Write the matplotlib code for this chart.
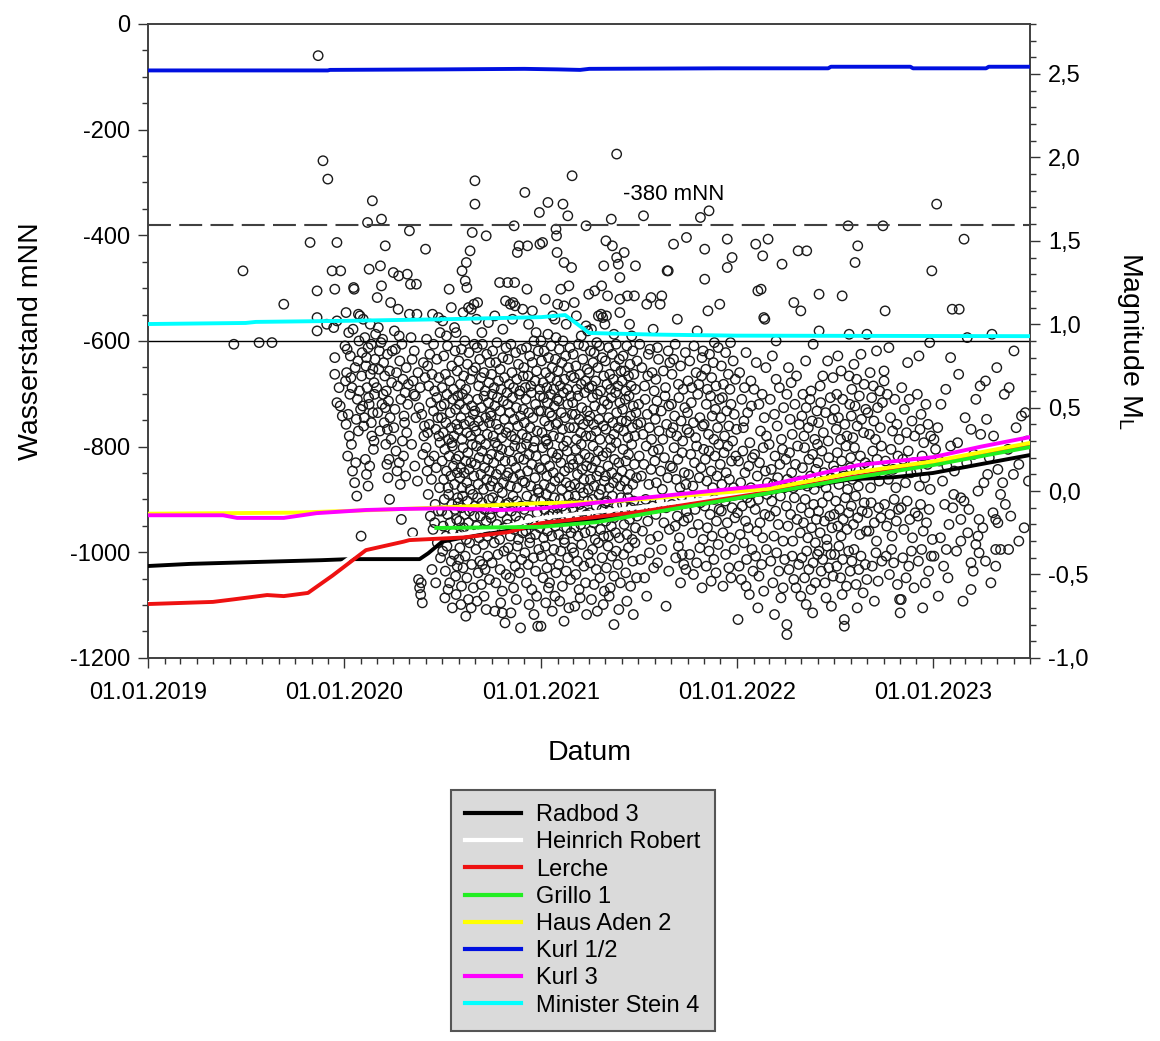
import numpy as np
import matplotlib
matplotlib.use('Agg')
import matplotlib.pyplot as plt
import matplotlib.dates as mdates
from matplotlib.ticker import MultipleLocator, FuncFormatter

plt.rcParams['font.family'] = ['Liberation Sans', 'DejaVu Sans']
plt.rcParams['axes.unicode_minus'] = False
plt.rcParams['mathtext.default'] = 'regular'

# water levels (mNN) of the mine shafts
radbod_dates = ['2019-01-01', '2019-03-20', '2019-07-01', '2019-11-20', '2020-01-10', '2020-05-20', '2020-06-05',
                '2020-07-01', '2020-08-10', '2021-01-01', '2021-07-01', '2022-03-01', '2022-08-01', '2022-10-20',
                '2023-01-01', '2023-07-01']
radbod_level = [-1026, -1022, -1019, -1015, -1013, -1013, -1002, -980, -972, -950, -928, -888, -862, -858, -850, -816]

heinrich_dates = ['2019-01-01', '2019-05-01', '2019-08-10', '2019-10-20', '2019-12-05', '2020-02-05', '2020-04-20',
                  '2020-08-01', '2020-11-01', '2021-01-01', '2021-07-01', '2022-03-01', '2022-08-01', '2023-01-01',
                  '2023-07-01']
heinrich_level = [-1096, -1092, -1079, -1073, -1038, -992, -975, -967, -950, -935, -915, -884, -857, -831, -796]

lerche_dates = ['2019-01-01', '2019-05-01', '2019-06-10', '2019-08-10', '2019-09-10', '2019-10-25', '2019-12-10',
                '2020-02-10', '2020-04-20', '2020-05-01', '2020-08-10', '2020-11-01', '2021-01-01', '2021-07-01',
                '2022-03-01', '2022-08-01', '2023-01-01', '2023-07-01']
lerche_level = [-1098, -1094, -1089, -1081, -1083, -1077, -1044, -996, -980, -977, -972, -962, -945, -924, -886, -858,
                -832, -797]

grillo_dates = ['2020-06-20', '2021-01-01', '2021-04-15', '2021-10-15', '2022-03-01', '2022-08-01', '2023-01-01',
                '2023-07-01']
grillo_level = [-954, -952, -943, -911, -888, -860, -835, -801]

haus_aden_dates = ['2019-01-01', '2019-06-01', '2019-10-01', '2020-03-01', '2020-07-01', '2021-01-01', '2021-05-01',
                   '2021-07-01', '2022-03-01', '2022-08-01', '2023-01-01', '2023-07-01']
haus_aden_level = [-927, -926, -925, -920, -915, -907, -905, -900, -880, -850, -828, -793]

kurl12_dates = ['2019-01-01', '2019-12-01', '2019-12-05', '2020-07-01', '2020-12-01', '2021-02-01', '2021-03-15',
                '2021-04-01', '2021-12-01', '2022-06-20', '2022-06-25', '2022-11-20', '2022-11-25', '2023-04-10',
                '2023-04-15', '2023-07-01']
kurl12_level = [-88, -88, -87, -86, -85, -86, -87, -85, -84, -84, -81, -81, -84, -84, -81, -81]

kurl3_dates = ['2019-01-01', '2019-05-20', '2019-06-15', '2019-09-10', '2019-11-10', '2020-02-10', '2020-04-20',
               '2020-07-01', '2020-10-20', '2021-01-01', '2021-07-01', '2022-03-01', '2022-08-15', '2023-01-01',
               '2023-04-01', '2023-07-01']
kurl3_level = [-930, -930, -935, -935, -926, -920, -918, -917, -920, -917, -898, -873, -835, -820, -800, -782]

stein_dates = ['2019-01-01', '2019-07-01', '2019-07-20', '2020-01-01', '2020-07-01', '2021-01-01', '2021-02-15',
               '2021-04-01', '2021-08-01', '2022-01-01', '2023-07-01']
stein_level = [-568, -566, -564, -562, -559, -555, -551, -585, -588, -590, -591]

well_names = ['Radbod 3', 'Heinrich Robert', 'Lerche', 'Grillo 1', 'Haus Aden 2', 'Kurl 1/2', 'Kurl 3',
              'Minister Stein 4']
well_colors = ['#000000', '#ffffff', '#ee1111', '#22ee22', '#ffff00', '#0010e0', '#ff00ff', '#00ffff']

# seismic events: (day of year, magnitude ML)
quakes_2019 = [
    (159, 0.88), (176, 1.32), (206, 0.89), (230, 0.89), (252, 1.12), (301, 1.49), (314, 1.20), (314, 1.04),
    (314, 0.96), (316, 2.61), (325, 1.98), (334, 1.87), (332, 1.00), (342, 1.32), (347, 1.21), (347, 0.80),
    (347, 0.70), (351, 1.02), (351, 1.49), (358, 1.32), (351, 0.53), (357, 0.51), (361, 0.45), (355, 0.62),
    (345, 0.98),
]

quakes_2020 = [
    (1, 0.87), (3, 1.07), (5, 0.85), (11, 0.81), (3, 0.40), (17, 1.22), (18, 1.21), (26, 1.06), (29, 1.05),
    (8, 0.95), (14, 0.62), (20, 0.74), (24, 0.55), (6, 0.21), (12, 0.68), (22, 0.43), (27, 0.90), (9, 0.33),
    (15, 0.12), (19, 0.05), (21, 0.17), (25, 0.78), (28, 0.60), (30, 0.49), (16, 0.97), (4, 0.71), (13, 0.28),
    (23, -0.03), (10, 0.58), (7, 0.46), (26, 0.36), (2, 0.66),
    (43, 1.61), (46, 1.33), (52, 1.74), (35, 1.03), (38, 0.92), (33, 0.83), (40, 0.75), (42, 0.62), (45, 0.56),
    (48, 0.70), (50, 0.88), (53, 0.47), (55, 0.65), (57, 0.79), (34, 0.51), (36, 0.39), (39, 0.19), (41, 0.10),
    (44, 0.03), (47, 0.15), (31, -0.27), (51, 0.33), (54, 0.25), (56, 0.58), (58, 0.94), (32, 0.69), (37, 0.44),
    (41, 0.80), (46, 0.52), (50, 0.41), (53, 0.73), (55, 0.30), (44, 0.86), (48, 1.00),
    (61, 1.16), (67, 1.35), (69, 1.63), (69, 1.23), (76, 1.47), (86, 1.13), (63, 0.98), (65, 0.84), (71, 0.91),
    (73, 0.77), (75, 0.69), (78, 0.60), (80, 0.82), (82, 0.54), (84, 0.72), (88, 0.65), (62, 0.47), (66, 0.36),
    (70, 0.52), (74, 0.41), (77, 0.28), (79, 0.16), (81, 0.08), (83, 0.19), (85, 0.44), (87, 0.31), (60, 0.62),
    (64, 0.73), (68, 0.89), (72, 0.58), (76, 0.50), (80, 0.37), (84, -0.05), (89, 0.84),
    (91, 1.31), (100, 1.09), (101, 1.29), (117, 1.30), (93, 0.96), (95, 0.85), (97, 0.71), (99, 0.63),
    (103, 0.78), (105, 0.55), (107, 0.88), (109, 0.67), (111, 0.45), (113, 0.59), (115, 0.74), (118, 0.52),
    (92, 0.38), (96, 0.24), (98, 0.12), (102, 0.17), (104, 0.04), (106, -0.17), (108, 0.30), (110, 0.21),
    (112, 0.41), (114, 0.09), (116, 0.35), (94, 0.49), (102, 0.93), (119, 0.64),
    (121, 1.56), (123, 1.24), (134, 1.24), (121, 1.06), (135, 1.06), (124, 0.92), (126, 0.79), (128, 0.66),
    (130, 0.84), (132, 0.57), (137, 0.71), (139, 0.50), (141, 0.62), (144, 0.46), (147, 0.77), (149, 0.39),
    (125, 0.28), (127, -0.25), (131, 0.15), (136, 0.06), (138, -0.53), (140, -0.58), (142, -0.62), (145, -0.67),
    (143, -0.55), (146, 0.22), (148, 0.33), (133, 0.44), (129, 0.58), (150, 0.68),
    (151, 1.45), (164, 1.06), (175, 1.04), (153, 0.91), (155, 0.75), (157, 0.63), (159, 0.82), (161, 0.53),
    (163, 0.70), (166, 0.48), (168, 0.60), (170, 0.37), (172, 0.56), (174, 0.44), (176, 0.68), (178, 0.29),
    (180, 0.51), (152, 0.26), (154, 0.12), (156, -0.02), (158, 0.18), (160, -0.15), (162, 0.07), (165, -0.23),
    (167, 0.21), (169, -0.08), (171, 0.14), (173, -0.31), (175, -0.12), (177, 0.02), (179, -0.40), (163, -0.47),
    (170, -0.55), (176, 0.33), (158, 0.40), (166, 0.88), (172, 0.79), (178, 0.95), (155, 0.35), (168, -0.19),
    (195, 1.21), (205, 0.98), (183, 1.02), (190, 0.93), (199, 1.10), (208, 0.95), (182, 0.62), (185, 0.81),
    (188, 0.70), (192, 0.87), (196, 0.66), (200, 0.75), (203, 0.61), (206, 0.84), (210, 0.72), (181, 0.44),
    (184, 0.35), (186, 0.52), (189, 0.41), (191, 0.58), (194, 0.31), (197, 0.47), (199, 0.38), (202, 0.55),
    (204, 0.33), (207, 0.49), (209, 0.40), (211, 0.57), (182, 0.18), (185, 0.07), (187, 0.25), (190, 0.12),
    (193, 0.02), (195, 0.21), (198, 0.09), (201, 0.27), (203, 0.15), (205, 0.04), (208, 0.19), (210, 0.11),
    (200, 0.29), (181, -0.12), (184, -0.21), (186, -0.05), (189, -0.27), (192, -0.14), (194, -0.02), (197, -0.19),
    (200, -0.08), (202, -0.25), (206, -0.11), (209, -0.17), (211, -0.04), (183, -0.36), (188, -0.48), (191, -0.33),
    (196, -0.55), (199, -0.42), (204, -0.38), (207, -0.51), (210, -0.45), (193, -0.59), (187, -0.64), (201, -0.70),
    (208, -0.62),
    (238, 1.55), (234, 1.44), (227, 1.37), (219, 1.32), (225, 1.26), (228, 1.22), (221, 1.07), (231, 1.10),
    (241, 1.12), (236, 1.09), (213, 0.78), (216, 0.64), (218, 0.85), (222, 0.69), (224, 0.90), (226, 0.61),
    (229, 0.76), (232, 0.83), (235, 0.67), (239, 0.72), (242, 0.88), (212, 0.37), (214, 0.52), (217, 0.44),
    (219, 0.31), (220, 0.58), (223, 0.40), (225, 0.49), (228, 0.35), (230, 0.55), (233, 0.42), (235, 0.33),
    (237, 0.51), (240, 0.46), (242, 0.39), (213, 0.21), (215, 0.08), (217, 0.14), (219, 0.02), (221, 0.26),
    (223, 0.11), (226, 0.18), (228, 0.05), (230, 0.23), (232, 0.13), (234, 0.01), (236, 0.17), (238, 0.28),
    (241, 0.09), (212, -0.07), (214, -0.18), (216, -0.26), (218, -0.10), (220, -0.03), (222, -0.22), (224, -0.14),
    (227, -0.29), (229, -0.06), (231, -0.19), (233, -0.12), (235, -0.24), (239, -0.02), (242, -0.15), (213, -0.41),
    (215, -0.34), (218, -0.57), (221, -0.46), (225, -0.39), (228, -0.52), (231, -0.65), (233, -0.31), (237, -0.44),
    (240, -0.58), (217, -0.68), (226, -0.75), (236, -0.70),
    (243, 1.86), (243, 1.72), (264, 1.53), (248, 1.13), (246, 1.03), (256, 0.95), (268, 1.01), (244, 0.74),
    (247, 0.86), (250, 0.63), (252, 0.79), (255, 0.68), (257, 0.88), (260, 0.71), (262, 0.60), (265, 0.82),
    (269, 0.65), (271, 0.77), (243, 0.48), (245, 0.36), (248, 0.55), (250, 0.42), (253, 0.31), (255, 0.50),
    (258, 0.39), (260, 0.57), (263, 0.44), (266, 0.34), (268, 0.53), (270, 0.41), (272, 0.47), (244, 0.16),
    (246, 0.27), (249, 0.04), (251, 0.20), (254, 0.10), (256, 0.24), (259, 0.01), (261, 0.14), (263, 0.28),
    (265, 0.07), (267, 0.19), (270, 0.12), (272, 0.03), (243, -0.09), (246, -0.21), (248, -0.04), (251, -0.28),
    (253, -0.15), (256, -0.07), (258, -0.23), (261, -0.11), (264, -0.18), (266, -0.27), (269, -0.05), (271, -0.14),
    (245, -0.35), (249, -0.49), (252, -0.42), (255, -0.56), (259, -0.32), (262, -0.47), (267, -0.39), (270, -0.53),
    (257, -0.44), (247, -0.66), (260, -0.63), (264, -0.71),
    (289, 1.25), (280, 1.05), (295, 0.97), (300, 1.14), (274, 0.70), (276, 0.84), (279, 0.62), (282, 0.77),
    (284, 0.89), (287, 0.66), (290, 0.73), (292, 0.61), (295, 0.80), (298, 0.68), (301, 0.86), (273, 0.45),
    (275, 0.58), (277, 0.33), (280, 0.51), (283, 0.40), (285, 0.56), (288, 0.37), (290, 0.48), (293, 0.32),
    (296, 0.54), (298, 0.43), (301, 0.35), (303, 0.59), (274, 0.22), (276, 0.06), (278, 0.17), (281, 0.29),
    (283, 0.10), (286, 0.02), (288, 0.21), (291, 0.13), (293, 0.25), (296, 0.05), (299, 0.18), (302, 0.09),
    (285, 0.27), (273, -0.16), (276, -0.04), (278, -0.25), (281, -0.10), (284, -0.20), (287, -0.06), (289, -0.29),
    (292, -0.13), (294, -0.01), (297, -0.22), (300, -0.08), (303, -0.17), (275, -0.43), (279, -0.31), (282, -0.55),
    (286, -0.38), (290, -0.47), (294, -0.60), (297, -0.36), (301, -0.50), (280, -0.72), (291, -0.67), (299, -0.79),
    (294, -0.73),
    (304, 1.25), (317, 1.25), (316, 1.59), (325, 1.47), (322, 1.43), (314, 1.13), (318, 1.11), (313, 1.03),
    (332, 1.09), (309, 1.12), (305, 0.79), (307, 0.64), (310, 0.88), (312, 0.71), (315, 0.62), (319, 0.83),
    (321, 0.67), (324, 0.76), (327, 0.60), (330, 0.85), (333, 0.69), (304, 0.52), (306, 0.38), (308, 0.47),
    (311, 0.33), (313, 0.56), (316, 0.43), (318, 0.31), (320, 0.50), (323, 0.39), (326, 0.58), (328, 0.45),
    (331, 0.34), (333, 0.49), (305, 0.11), (307, 0.24), (309, 0.03), (312, 0.18), (314, 0.08), (317, 0.27),
    (319, 0.14), (322, 0.02), (325, 0.20), (327, 0.10), (329, 0.26), (332, 0.06), (304, -0.20), (306, -0.07),
    (309, -0.27), (311, -0.12), (314, -0.03), (316, -0.23), (319, -0.15), (321, -0.06), (324, -0.29), (326, -0.18),
    (329, -0.09), (332, -0.25), (305, -0.34), (308, -0.52), (312, -0.40), (315, -0.58), (318, -0.45), (322, -0.33),
    (326, -0.49), (330, -0.41), (310, -0.73), (320, -0.65), (328, -0.82),
    (336, 1.79), (340, 1.21), (341, 1.47), (343, 1.00), (363, 1.67), (364, 1.48), (350, 1.08), (357, 0.95),
    (334, 0.74), (337, 0.62), (339, 0.86), (342, 0.69), (345, 0.81), (347, 0.63), (350, 0.77), (353, 0.90),
    (355, 0.66), (358, 0.72), (361, 0.84), (364, 0.61), (335, 0.41), (338, 0.55), (340, 0.32), (343, 0.47),
    (346, 0.38), (348, 0.59), (351, 0.44), (354, 0.30), (356, 0.52), (359, 0.36), (362, 0.48), (364, 0.57),
    (334, 0.19), (336, 0.05), (339, 0.28), (341, 0.12), (344, 0.22), (347, 0.03), (349, 0.16), (352, 0.26),
    (355, 0.08), (357, 0.21), (360, 0.01), (363, 0.14), (335, -0.11), (338, -0.24), (340, -0.03), (343, -0.17),
    (346, -0.28), (348, -0.09), (351, -0.20), (354, -0.05), (356, -0.26), (359, -0.13), (362, -0.01), (364, -0.22),
    (336, -0.37), (339, -0.55), (342, -0.44), (345, -0.31), (349, -0.59), (352, -0.40), (356, -0.48), (360, -0.81),
    (362, -0.35), (344, -0.68), (353, -0.74), (358, -0.63),
]

quakes_2021 = [
    (3, 1.49), (13, 1.73), (22, 1.05), (28, 1.57), (29, 1.53), (26, 1.03), (30, 1.43), (0, 0.90), (13, 0.94),
    (28, 0.92), (8, 1.15), (1, 0.78), (4, 0.65), (6, 0.84), (9, 0.71), (11, 0.62), (14, 0.80), (17, 0.68),
    (19, 0.87), (21, 0.74), (24, 0.61), (27, 0.79), (30, 0.66), (0, 0.48), (2, 0.35), (5, 0.56), (7, 0.42),
    (10, 0.31), (12, 0.53), (15, 0.39), (18, 0.58), (20, 0.45), (23, 0.33), (25, 0.51), (28, 0.40), (30, 0.55),
    (16, 0.47), (1, 0.13), (3, 0.26), (6, 0.04), (8, 0.19), (11, 0.09), (13, 0.28), (16, 0.15), (18, 0.02),
    (21, 0.23), (23, 0.11), (26, 0.06), (29, 0.20), (9, 0.30), (0, -0.06), (2, -0.19), (5, -0.28), (7, -0.11),
    (10, -0.02), (12, -0.24), (15, -0.15), (17, -0.08), (20, -0.27), (22, -0.13), (25, -0.04), (27, -0.21),
    (30, -0.10), (1, -0.39), (4, -0.52), (8, -0.33), (11, -0.46), (14, -0.58), (19, -0.41), (24, -0.35),
    (28, -0.49), (16, -0.55), (0, -0.81), (9, -0.67), (21, -0.72), (26, -0.63),
    (31, 1.12), (37, 1.21), (41, 1.72), (43, 1.37), (43, 1.11), (50, 1.65), (52, 1.23), (58, 1.89), (57, 1.34),
    (47, 1.00), (32, 0.72), (34, 0.85), (36, 0.63), (39, 0.77), (41, 0.90), (44, 0.67), (46, 0.81), (49, 0.61),
    (51, 0.74), (54, 0.86), (56, 0.69), (31, 0.41), (33, 0.54), (35, 0.32), (38, 0.47), (40, 0.37), (42, 0.59),
    (45, 0.44), (48, 0.30), (50, 0.52), (53, 0.38), (55, 0.57), (58, 0.46), (32, 0.22), (34, 0.08), (37, 0.17),
    (39, 0.01), (42, 0.27), (44, 0.12), (47, 0.05), (49, 0.24), (52, 0.14), (54, 0.03), (57, 0.19), (31, -0.14),
    (33, -0.26), (36, -0.05), (38, -0.18), (40, -0.09), (43, -0.29), (46, -0.12), (48, -0.22), (51, -0.03),
    (53, -0.16), (56, -0.25), (58, -0.07), (33, -0.44), (37, -0.36), (40, -0.57), (44, -0.31), (47, -0.48),
    (50, -0.40), (55, -0.53), (58, -0.34), (35, -0.66), (43, -0.78), (52, -0.70),
    (84, 1.59), (89, 1.18), (84, 0.99), (87, 0.96), (66, 1.05), (62, 1.13), (75, 0.93), (60, 0.82), (62, 0.68),
    (65, 0.75), (67, 0.61), (70, 0.88), (72, 0.70), (75, 0.64), (78, 0.79), (80, 0.87), (83, 0.66), (86, 0.73),
    (89, 0.62), (59, 0.53), (61, 0.38), (64, 0.46), (66, 0.31), (69, 0.57), (71, 0.43), (74, 0.35), (76, 0.50),
    (79, 0.40), (81, 0.59), (84, 0.33), (86, 0.48), (88, 0.42), (60, 0.16), (63, 0.04), (65, 0.25), (68, 0.10),
    (70, 0.19), (73, 0.02), (75, 0.28), (77, 0.13), (80, 0.07), (82, 0.22), (85, 0.15), (88, 0.01), (59, -0.10),
    (62, -0.22), (64, -0.03), (67, -0.17), (69, -0.27), (72, -0.08), (74, -0.20), (77, -0.12), (79, -0.01),
    (82, -0.25), (85, -0.14), (87, -0.06), (61, -0.37), (65, -0.50), (68, -0.42), (71, -0.59), (76, -0.32),
    (80, -0.45), (83, -0.55), (88, -0.38), (63, -0.69), (73, -0.64), (85, -0.74),
    (100, 1.20), (113, 1.23), (117, 1.35), (107, 1.05), (112, 1.06), (115, 1.04), (119, 1.00), (94, 0.97),
    (90, 0.71), (92, 0.84), (95, 0.63), (97, 0.77), (99, 0.83), (102, 0.66), (104, 0.89), (106, 0.74),
    (109, 0.87), (111, 0.60), (114, 0.80), (117, 0.69), (91, 0.45), (93, 0.33), (96, 0.56), (98, 0.40),
    (100, 0.51), (103, 0.36), (105, 0.58), (108, 0.43), (110, 0.31), (113, 0.49), (116, 0.39), (118, 0.54),
    (90, 0.20), (92, 0.07), (95, 0.14), (97, 0.27), (99, 0.03), (102, 0.18), (104, 0.09), (107, 0.24),
    (109, 0.12), (112, 0.01), (115, 0.21), (118, 0.06), (91, -0.13), (93, -0.24), (96, -0.05), (98, -0.19),
    (101, -0.29), (103, -0.09), (106, -0.16), (108, -0.02), (111, -0.23), (114, -0.11), (117, -0.27), (119, -0.07),
    (92, -0.43), (96, -0.35), (99, -0.56), (103, -0.47), (107, -0.31), (110, -0.52), (114, -0.40), (118, -0.60),
    (94, -0.65), (105, -0.72), (116, -0.68),
    (121, 1.50), (124, 1.17), (131, 1.63), (133, 1.47), (141, 2.02), (141, 1.40), (144, 1.36), (147, 1.28),
    (147, 1.15), (147, 1.07), (122, 1.05), (136, 0.94), (120, 0.78), (123, 0.64), (126, 0.86), (128, 0.70),
    (130, 0.61), (133, 0.82), (135, 0.67), (138, 0.75), (140, 0.88), (143, 0.63), (146, 0.79), (149, 0.72),
    (121, 0.37), (124, 0.52), (126, 0.44), (129, 0.31), (131, 0.56), (134, 0.41), (136, 0.34), (139, 0.59),
    (141, 0.47), (144, 0.38), (147, 0.53), (150, 0.42), (120, 0.09), (122, 0.23), (125, 0.15), (127, 0.02),
    (130, 0.26), (132, 0.11), (135, 0.05), (137, 0.19), (140, 0.29), (142, 0.08), (145, 0.17), (148, 0.03),
    (121, -0.18), (123, -0.06), (126, -0.27), (128, -0.12), (131, -0.21), (133, -0.03), (136, -0.16), (139, -0.25),
    (141, -0.09), (144, -0.14), (146, -0.28), (149, -0.04), (122, -0.46), (125, -0.33), (129, -0.58), (132, -0.39),
    (136, -0.51), (140, -0.36), (143, -0.44), (148, -0.55), (127, -0.63), (136, -0.80), (145, -0.71),
    (155, 1.43), (161, 1.17), (165, 1.00), (174, 1.17), (176, 1.35), (169, 0.93), (151, 0.66), (153, 0.81),
    (156, 0.72), (158, 0.60), (160, 0.87), (163, 0.69), (166, 0.76), (168, 0.63), (171, 0.84), (173, 0.70),
    (176, 0.61), (179, 0.78), (152, 0.49), (154, 0.36), (157, 0.55), (159, 0.42), (162, 0.32), (164, 0.57),
    (167, 0.45), (170, 0.38), (172, 0.51), (175, 0.33), (177, 0.47), (180, 0.40), (151, 0.12), (153, 0.25),
    (156, 0.06), (158, 0.18), (161, 0.01), (163, 0.22), (166, 0.10), (169, 0.28), (171, 0.04), (174, 0.16),
    (178, 0.08), (152, -0.08), (155, -0.20), (157, -0.13), (160, -0.26), (162, -0.04), (165, -0.17), (168, -0.10),
    (170, -0.29), (173, -0.06), (176, -0.22), (179, -0.15), (154, -0.38), (158, -0.49), (163, -0.34), (167, -0.57),
    (171, -0.42), (175, -0.31), (178, -0.52), (160, -0.66), (172, -0.74),
    (191, 1.65), (197, 1.12), (205, 1.16), (209, 0.97), (200, 0.82), (184, 0.88), (188, 0.74), (193, 0.63),
    (199, 0.69), (203, 0.85), (207, 0.71), (211, 0.60), (182, 0.52), (186, 0.41), (190, 0.34), (194, 0.55),
    (198, 0.46), (202, 0.38), (206, 0.31), (210, 0.49), (183, 0.21), (187, 0.09), (192, 0.16), (196, 0.27),
    (201, 0.04), (205, 0.13), (209, 0.24), (185, -0.11), (189, -0.24), (195, -0.05), (199, -0.18), (204, -0.29),
    (208, -0.09), (186, -0.41), (193, -0.52), (202, -0.37), (210, -0.46), (197, -0.63),
    (225, 1.17), (222, 1.12), (235, 1.32), (237, 1.32), (219, 0.79), (237, 0.84), (214, 0.67), (217, 0.86),
    (228, 0.72), (232, 0.62), (240, 0.77), (213, 0.43), (216, 0.54), (220, 0.36), (224, 0.48), (227, 0.31),
    (231, 0.57), (234, 0.40), (238, 0.51), (242, 0.35), (212, 0.18), (215, 0.05), (219, 0.25), (223, 0.12),
    (226, 0.01), (230, 0.20), (236, 0.08), (241, 0.15), (214, -0.14), (218, -0.27), (222, -0.06), (229, -0.19),
    (233, -0.10), (239, -0.23), (217, -0.43), (225, -0.35), (233, -0.69), (238, -0.48),
    (247, 1.48), (254, 1.03), (271, 1.52), (247, 0.79), (244, 0.70), (250, 0.88), (256, 0.64), (260, 0.75),
    (265, 0.61), (269, 0.83), (243, 0.52), (246, 0.38), (249, 0.45), (253, 0.33), (257, 0.56), (261, 0.42),
    (264, 0.30), (268, 0.50), (272, 0.37), (245, 0.14), (248, 0.26), (252, 0.07), (255, 0.19), (259, 0.02),
    (263, 0.23), (267, 0.11), (270, 0.04), (244, -0.08), (250, -0.21), (254, -0.15), (258, -0.28), (262, -0.03),
    (266, -0.18), (271, -0.12), (251, -0.40), (256, -0.33), (260, -0.55), (266, -0.44), (270, -0.47), (263, -0.38),
    (297, 1.64), (291, 0.96), (300, 0.80), (274, 0.66), (277, 0.78), (281, 0.62), (285, 0.87), (289, 0.71),
    (294, 0.64), (299, 0.69), (302, 0.84), (273, 0.47), (276, 0.35), (280, 0.53), (284, 0.41), (288, 0.32),
    (292, 0.58), (296, 0.44), (301, 0.39), (275, 0.10), (279, 0.22), (283, 0.03), (286, 0.17), (290, 0.27),
    (295, 0.08), (298, 0.14), (303, 0.25), (274, -0.16), (278, -0.04), (282, -0.25), (287, -0.11), (293, -0.20),
    (297, -0.07), (302, -0.29), (277, -0.38), (284, -0.50), (290, -0.43), (296, -0.34), (300, -0.58),
    (313, 1.68), (305, 1.45), (305, 1.27), (311, 1.08), (323, 0.89), (307, 0.73), (310, 0.61), (314, 0.82),
    (318, 0.68), (321, 0.77), (326, 0.63), (330, 0.86), (304, 0.40), (308, 0.52), (312, 0.34), (316, 0.57),
    (319, 0.45), (322, 0.31), (325, 0.49), (329, 0.38), (332, 0.55), (306, 0.19), (309, 0.06), (313, 0.24),
    (317, 0.12), (320, 0.02), (324, 0.21), (328, 0.09), (331, 0.28), (305, -0.09), (310, -0.22), (315, -0.14),
    (319, -0.27), (323, -0.05), (327, -0.18), (332, -0.11), (308, -0.45), (313, -0.36), (317, -0.54), (322, -0.41),
    (326, -0.49), (330, -0.32),
    (333, 1.12), (347, 1.51), (347, 1.34), (356, 1.40), (353, 0.89), (336, 0.75), (340, 0.64), (344, 0.83),
    (349, 0.70), (352, 0.61), (358, 0.78), (362, 0.67), (335, 0.44), (338, 0.56), (342, 0.33), (346, 0.48),
    (350, 0.39), (354, 0.52), (357, 0.30), (360, 0.46), (364, 0.37), (334, 0.16), (337, 0.04), (341, 0.23),
    (345, 0.11), (348, 0.27), (351, 0.07), (355, 0.18), (359, 0.02), (363, 0.21), (336, -0.12), (339, -0.25),
    (343, -0.06), (347, -0.19), (352, -0.28), (356, -0.10), (361, -0.16), (339, -0.57), (344, -0.38), (350, -0.46),
    (354, -0.52), (360, -0.35),
]

quakes_2022 = [
    (17, 0.83), (2, -0.77), (17, -0.57), (5, 0.71), (9, 0.55), (12, 0.38), (14, 0.62), (20, 0.47), (24, 0.29),
    (27, 0.51), (3, 0.18), (7, 0.05), (11, 0.24), (15, 0.11), (19, -0.04), (22, 0.15), (26, 0.02), (29, 0.20),
    (1, -0.13), (6, -0.26), (10, -0.09), (13, -0.31), (16, -0.18), (21, -0.22), (25, -0.07), (28, -0.35),
    (4, -0.45), (8, -0.53), (18, -0.41), (23, -0.62), (30, -0.48), (13, 0.42), (26, 0.66),
    (35, 1.48), (58, 1.51), (48, 1.41), (45, 1.21), (39, 1.20), (52, 1.03), (50, 1.04), (54, 0.74), (32, 0.61),
    (36, 0.77), (41, 0.52), (44, 0.36), (47, 0.58), (51, 0.44), (55, 0.33), (33, 0.22), (38, 0.09), (42, 0.17),
    (46, 0.01), (49, 0.26), (53, 0.12), (57, 0.05), (34, -0.11), (37, -0.24), (40, -0.05), (43, -0.19),
    (48, -0.28), (52, -0.14), (56, -0.02), (35, -0.39), (41, -0.51), (46, -0.44), (50, -0.60), (55, -0.35),
    (39, -0.70),
    (84, 1.36), (73, 0.90), (73, 0.67), (62, 0.55), (66, 0.81), (70, 0.46), (75, 0.39), (79, 0.62), (83, 0.31),
    (87, 0.50), (60, 0.28), (64, 0.13), (68, 0.04), (71, 0.21), (76, 0.08), (80, 0.16), (85, 0.25), (88, 0.02),
    (61, -0.15), (65, -0.06), (69, -0.27), (72, -0.12), (77, -0.20), (81, -0.03), (86, -0.30), (63, -0.42),
    (67, -0.55), (74, -0.37), (78, -0.48), (82, -0.64), (89, -0.41), (70, -0.74), (86, -0.58),
    (114, 1.44), (106, 1.13), (119, 1.08), (101, 0.65), (93, 0.58), (96, 0.74), (99, 0.43), (103, 0.34),
    (108, 0.52), (111, 0.69), (116, 0.40), (91, 0.19), (94, 0.07), (98, 0.23), (102, 0.11), (105, 0.02),
    (109, 0.16), (113, 0.27), (117, 0.06), (92, -0.09), (95, -0.21), (100, -0.14), (104, -0.30), (107, -0.04),
    (112, -0.17), (118, -0.25), (93, -0.80), (93, -0.86), (97, -0.47), (103, -0.39), (110, -0.58), (115, -0.44),
    (119, -0.63), (106, -0.53),
    (130, 1.44), (142, 0.88), (128, 0.78), (123, 0.58), (138, 0.60), (121, 0.45), (125, 0.33), (129, 0.50),
    (133, 0.38), (136, 0.55), (140, 0.42), (145, 0.31), (149, 0.48), (122, 0.14), (126, 0.26), (131, 0.03),
    (134, 0.19), (137, 0.09), (141, 0.22), (144, 0.01), (147, 0.13), (150, 0.28), (120, -0.10), (124, -0.19),
    (127, -0.05), (132, -0.28), (135, -0.13), (139, -0.22), (143, -0.08), (146, -0.31), (148, -0.17), (121, -0.40),
    (126, -0.52), (130, -0.36), (134, -0.47), (138, -0.59), (142, -0.43), (146, -0.55), (150, -0.38), (129, -0.68),
    (141, -0.73),
    (153, 1.18), (153, 0.96), (155, 0.63), (160, 0.69), (169, 0.78), (179, 0.68), (152, 0.41), (156, 0.53),
    (161, 0.35), (165, 0.47), (170, 0.30), (174, 0.56), (178, 0.43), (151, 0.17), (154, 0.05), (158, 0.24),
    (162, 0.11), (166, 0.02), (171, 0.20), (175, 0.08), (180, 0.15), (152, -0.12), (155, -0.25), (159, -0.07),
    (163, -0.18), (167, -0.29), (170, -0.03), (173, -0.15), (177, -0.22), (153, -0.36), (157, -0.48), (160, -0.41),
    (164, -0.55), (168, -0.33), (171, -0.46), (175, -0.38), (179, -0.51), (166, -0.64), (176, -0.69),
    (196, 1.17), (209, 0.94), (207, 1.59), (188, 0.81), (194, 0.72), (186, 0.58), (209, 0.69), (182, 0.49),
    (185, 0.37), (189, 0.44), (193, 0.31), (197, 0.55), (201, 0.40), (205, 0.33), (210, 0.52), (183, 0.12),
    (187, 0.23), (190, 0.04), (195, 0.18), (199, 0.09), (203, 0.27), (206, 0.01), (211, 0.14), (181, -0.14),
    (184, -0.06), (188, -0.21), (191, -0.11), (194, -0.27), (198, -0.17), (202, -0.04), (205, -0.23), (208, -0.13),
    (182, -0.38), (186, -0.45), (190, -0.33), (193, -0.52), (197, -0.41), (200, -0.77), (200, -0.81), (204, -0.57),
    (208, -0.36), (211, -0.48), (196, -0.62),
    (225, 1.47), (220, 1.37), (242, 0.94), (214, 0.61), (218, 0.76), (223, 0.67), (231, 0.82), (237, 0.64),
    (213, 0.45), (216, 0.32), (220, 0.51), (224, 0.39), (228, 0.57), (232, 0.43), (236, 0.35), (240, 0.49),
    (212, 0.20), (215, 0.07), (219, 0.26), (222, 0.13), (226, 0.03), (230, 0.21), (234, 0.10), (239, 0.17),
    (213, -0.09), (217, -0.20), (221, -0.03), (225, -0.16), (229, -0.26), (233, -0.12), (237, -0.07), (241, -0.24),
    (214, -0.42), (218, -0.35), (222, -0.56), (227, -0.47), (231, -0.39), (235, -0.61), (239, -0.44), (242, -0.53),
    (224, -0.70),
    (272, 1.59), (248, 0.71), (254, 0.63), (260, 0.84), (266, 0.60), (244, 0.47), (247, 0.34), (251, 0.56),
    (255, 0.42), (258, 0.31), (262, 0.50), (267, 0.38), (271, 0.53), (245, 0.15), (249, 0.02), (253, 0.24),
    (257, 0.10), (261, 0.19), (265, 0.06), (269, 0.27), (243, -0.13), (246, -0.24), (250, -0.07), (256, -0.19),
    (260, -0.30), (264, -0.10), (268, -0.16), (252, -0.45), (259, -0.37), (263, -0.54), (270, -0.42), (256, -0.66),
    (276, 1.08), (283, 0.86), (274, 0.72), (274, 0.66), (280, 0.58), (286, 0.44), (290, 0.36), (294, 0.55),
    (298, 0.40), (302, 0.31), (277, 0.18), (282, 0.07), (287, 0.25), (291, 0.13), (296, 0.02), (300, 0.21),
    (275, -0.08), (279, -0.21), (285, -0.14), (289, -0.27), (293, -0.05), (297, -0.18), (301, -0.11), (278, -0.39),
    (284, -0.50), (292, -0.43), (299, -0.56), (303, -0.65), (288, -0.35),
    (318, 0.77), (304, -0.73), (306, -0.65), (307, 0.62), (312, 0.49), (316, 0.35), (321, 0.55), (326, 0.42),
    (331, 0.33), (309, 0.19), (314, 0.05), (319, 0.24), (324, 0.11), (329, 0.17), (306, -0.10), (311, -0.23),
    (317, -0.06), (322, -0.17), (327, -0.28), (332, -0.13), (309, -0.40), (315, -0.52), (320, -0.45), (325, -0.36),
    (330, -0.58),
    (363, 1.32), (359, 0.89), (339, 0.81), (346, -0.70), (343, 0.46), (336, 0.58), (341, 0.37), (348, 0.29),
    (352, 0.52), (356, 0.40), (361, 0.33), (335, 0.12), (340, 0.03), (345, 0.21), (350, 0.08), (355, 0.16),
    (360, 0.01), (337, -0.15), (342, -0.08), (347, -0.24), (353, -0.19), (358, -0.11), (364, -0.29), (338, -0.42),
    (344, -0.35), (351, -0.55), (357, -0.48), (362, -0.39),
]

quakes_2023 = [
    (7, 1.72), (58, 1.51), (36, 1.09), (49, 1.09), (110, 0.94), (151, 0.84), (48, 0.70), (119, 0.74), (88, 0.63),
    (133, 0.58), (15, 0.52), (9, 0.38), (60, 0.44), (100, 0.43), (71, 0.37), (89, 0.34), (113, 0.33), (76, 0.22),
    (102, 0.10), (121, 0.13), (126, -0.02), (39, -0.02), (52, -0.04), (58, -0.06), (67, -0.11), (84, 0.00),
    (52, -0.17), (86, -0.17), (112, -0.13), (117, -0.17), (121, -0.19), (52, -0.30), (93, -0.22), (84, -0.27),
    (86, -0.37), (117, -0.35), (126, -0.35), (141, -0.35), (117, -0.45), (71, -0.43), (2, -0.39), (56, -0.66),
    (71, -0.59), (2, 0.31), (5, 0.25), (12, 0.18), (18, 0.06), (22, -0.08), (26, 0.15), (30, -0.20), (33, 0.27),
    (14, -0.28), (20, -0.45), (28, -0.52), (44, -0.36), (40, 0.12), (46, 0.29), (63, 0.17), (65, -0.25),
    (75, -0.48), (80, -0.32), (95, 0.05), (98, -0.42), (105, 0.20), (108, -0.55), (130, 0.05), (135, -0.08),
    (140, 0.25), (145, -0.15), (150, 0.10), (155, 0.38), (160, -0.30), (165, 0.45), (170, -0.22), (175, 0.30),
    (178, 0.06), (24, 0.61), (33, 0.80), (64, 0.92), (80, 0.55), (98, 0.66), (142, 0.62), (160, 0.16),
    (172, 0.47), (10, -0.63), (25, -0.35), (37, -0.10),
]


def quake_arrays(year, events):
    days = np.array([e[0] for e in events]).astype('timedelta64[D]')
    mags = np.array([e[1] for e in events])
    return np.datetime64(f'{year}-01-01') + days, mags


fig = plt.figure(figsize=(11.6, 10.41), dpi=100)
ax = fig.add_axes([0.128, 0.368, 0.760, 0.609])
ax2 = ax.twinx()
ax.set_zorder(ax2.get_zorder() + 1)
ax.patch.set_visible(False)
ax2.set_facecolor('#e4e4e4')

wells = [
    (radbod_dates, radbod_level), (heinrich_dates, heinrich_level), (lerche_dates, lerche_level),
    (grillo_dates, grillo_level), (haus_aden_dates, haus_aden_level), (kurl12_dates, kurl12_level),
    (kurl3_dates, kurl3_level), (stein_dates, stein_level),
]
handles = []
for (d, lvl), name, col in zip(wells, well_names, well_colors):
    h, = ax.plot(np.array(d, dtype='datetime64[D]'), lvl, color=col, lw=2.8, label=name, zorder=3)
    handles.append(h)

ax.axhline(-600, color='black', lw=1.0, zorder=2)
ax.axhline(-380, color='#404040', lw=1.5, dashes=(11, 4), zorder=2)
ax.text(np.datetime64('2021-09-05'), -322, '-380 mNN', ha='center', va='center', fontsize=16)

for year, ev in [(2019, quakes_2019), (2020, quakes_2020), (2021, quakes_2021), (2022, quakes_2022),
                 (2023, quakes_2023)]:
    t, m = quake_arrays(year, ev)
    ax2.scatter(t, m, s=46, facecolors='none', edgecolors='#1a1a1a', linewidths=1.0)

ax.set_xlim(np.datetime64('2019-01-01'), np.datetime64('2023-07-01'))
ax.set_ylim(-1200, 0)
ax2.set_ylim(-1.0, 2.8)

ax.xaxis.set_major_locator(mdates.YearLocator())
ax.xaxis.set_minor_locator(mdates.MonthLocator())
ax.xaxis.set_major_formatter(mdates.DateFormatter('%d.%m.%Y'))
ax.yaxis.set_major_locator(MultipleLocator(200))
ax.yaxis.set_minor_locator(MultipleLocator(50))
ax2.yaxis.set_major_locator(MultipleLocator(0.5))
ax2.yaxis.set_minor_locator(MultipleLocator(0.1))
ax2.yaxis.set_major_formatter(FuncFormatter(lambda v, p: f'{v:.1f}'.replace('.', ',')))

for a in (ax, ax2):
    a.tick_params(which='major', direction='out', length=7, width=1.0, color='#333333', labelsize=17)
    a.tick_params(which='minor', direction='out', length=4, width=1.0, color='#333333')
    for sp in a.spines.values():
        sp.set_color('#404040')
        sp.set_linewidth(1.2)
ax.tick_params(axis='x', which='major', pad=10)
ax.tick_params(axis='y', which='major', pad=6)
ax2.tick_params(axis='y', which='major', pad=6)

ax.set_xlabel('Datum', fontsize=20.5)
ax.xaxis.set_label_coords(0.5, -0.13)
ax.set_ylabel('Wasserstand mNN', fontsize=20.5)
ax.yaxis.set_label_coords(-0.119, 0.5)
ax2.set_ylabel('Magnitude M$_L$', fontsize=20.5, rotation=270, va='bottom')
ax2.yaxis.set_label_coords(1.096, 0.5)

leg = fig.legend(handles, well_names, loc='upper center', bbox_to_anchor=(0.5026, 0.2411), fontsize=17,
                 frameon=True, fancybox=False, framealpha=1, facecolor='#dadada', edgecolor='#555555',
                 handlelength=2.37, handletextpad=0.64, labelspacing=0.22, borderpad=0.6, borderaxespad=0)
leg.get_frame().set_linewidth(1.5)
for ln in leg.get_lines():
    ln.set_linewidth(3.0)

fig.savefig('out.png', dpi=100)
